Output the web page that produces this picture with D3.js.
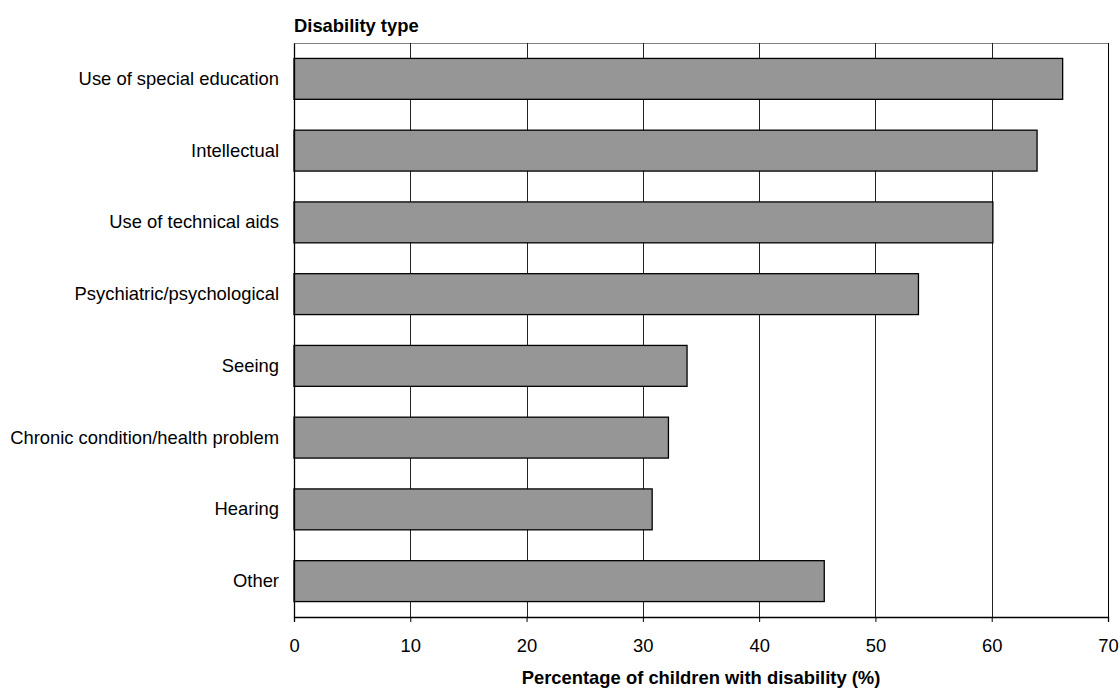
<!DOCTYPE html>
<html>
<head>
<meta charset="utf-8">
<script src="https://cdn.jsdelivr.net/npm/d3@7"></script>
<style>
  body { margin: 0; background: #fff; }
  text { font-family: "Liberation Sans", Arial, sans-serif; fill: #000; }
</style>
</head>
<body>
<svg id="chart" width="1119" height="689"></svg>
<script>
const categories = [
  "Use of special education",
  "Intellectual",
  "Use of technical aids",
  "Psychiatric/psychological",
  "Seeing",
  "Chronic condition/health problem",
  "Hearing",
  "Other"
];
const values = [66.1, 63.9, 60.1, 53.7, 33.8, 32.2, 30.8, 45.6];
const xTicks = [0, 10, 20, 30, 40, 50, 60, 70];
const yTitle = "Disability type";
const xTitle = "Percentage of children with disability (%)";

(function () {
const data = categories.map((c, i) => ({ c, v: values[i] }));
const fs = 18.4;

const svg = d3.select("#chart");
const pL = 294, pR = 1108, pT = 43, pB = 617;

const x = d3.scaleLinear().domain([0, 70]).range([pL, pR]);
const y = d3.scaleBand().domain(categories).range([pT, pB]).paddingInner(0.43).paddingOuter(0.215);

// plot frame
svg.append("rect")
  .attr("x", pL + 0.5).attr("y", pT + 0.5)
  .attr("width", pR - pL).attr("height", pB - pT)
  .attr("fill", "#fff").attr("stroke", "#808080").attr("stroke-width", 1);

// gridlines
svg.append("g")
  .selectAll("line")
  .data(xTicks.filter(t => t > 0))
  .join("line")
  .attr("x1", d => Math.round(x(d)) + 0.5).attr("x2", d => Math.round(x(d)) + 0.5)
  .attr("y1", pT).attr("y2", pB)
  .attr("stroke", d => d === 70 ? "#000" : "#222")
  .attr("stroke-width", 1);

// bars
svg.append("g")
  .selectAll("rect")
  .data(data)
  .join("rect")
  .attr("x", x(0))
  .attr("y", d => y(d.c))
  .attr("width", d => x(d.v) - x(0))
  .attr("height", y.bandwidth())
  .attr("fill", "#969696")
  .attr("stroke", "#000")
  .attr("stroke-width", 1.3);

// x axis
const xAxis = d3.axisBottom(x).tickValues(xTicks).tickSize(5).tickPadding(17).tickFormat(d3.format("d"));
const gx = svg.append("g").attr("transform", `translate(0,${pB})`).call(xAxis);
gx.select(".domain").attr("stroke", "#000").attr("stroke-width", 1.3);
gx.selectAll(".tick line").attr("stroke", "#000");
gx.selectAll(".tick text").attr("font-size", fs).attr("font-family", "Liberation Sans, Arial, sans-serif").attr("fill", "#000");

// y axis
const yAxis = d3.axisLeft(y).tickSize(0).tickPadding(15);
const gy = svg.append("g").attr("transform", `translate(${pL},0)`).call(yAxis);
gy.select(".domain").attr("stroke", "#000").attr("stroke-width", 1.3);
gy.selectAll(".tick text").attr("font-size", fs).attr("font-family", "Liberation Sans, Arial, sans-serif").attr("fill", "#000");

// titles
svg.append("text")
  .attr("x", pL).attr("y", 32)
  .attr("font-size", fs).attr("font-weight", "bold")
  .text(yTitle);

svg.append("text")
  .attr("x", (pL + pR) / 2).attr("y", 684)
  .attr("text-anchor", "middle")
  .attr("font-size", fs).attr("font-weight", "bold")
  .text(xTitle);
})();
</script>
</body>
</html>
